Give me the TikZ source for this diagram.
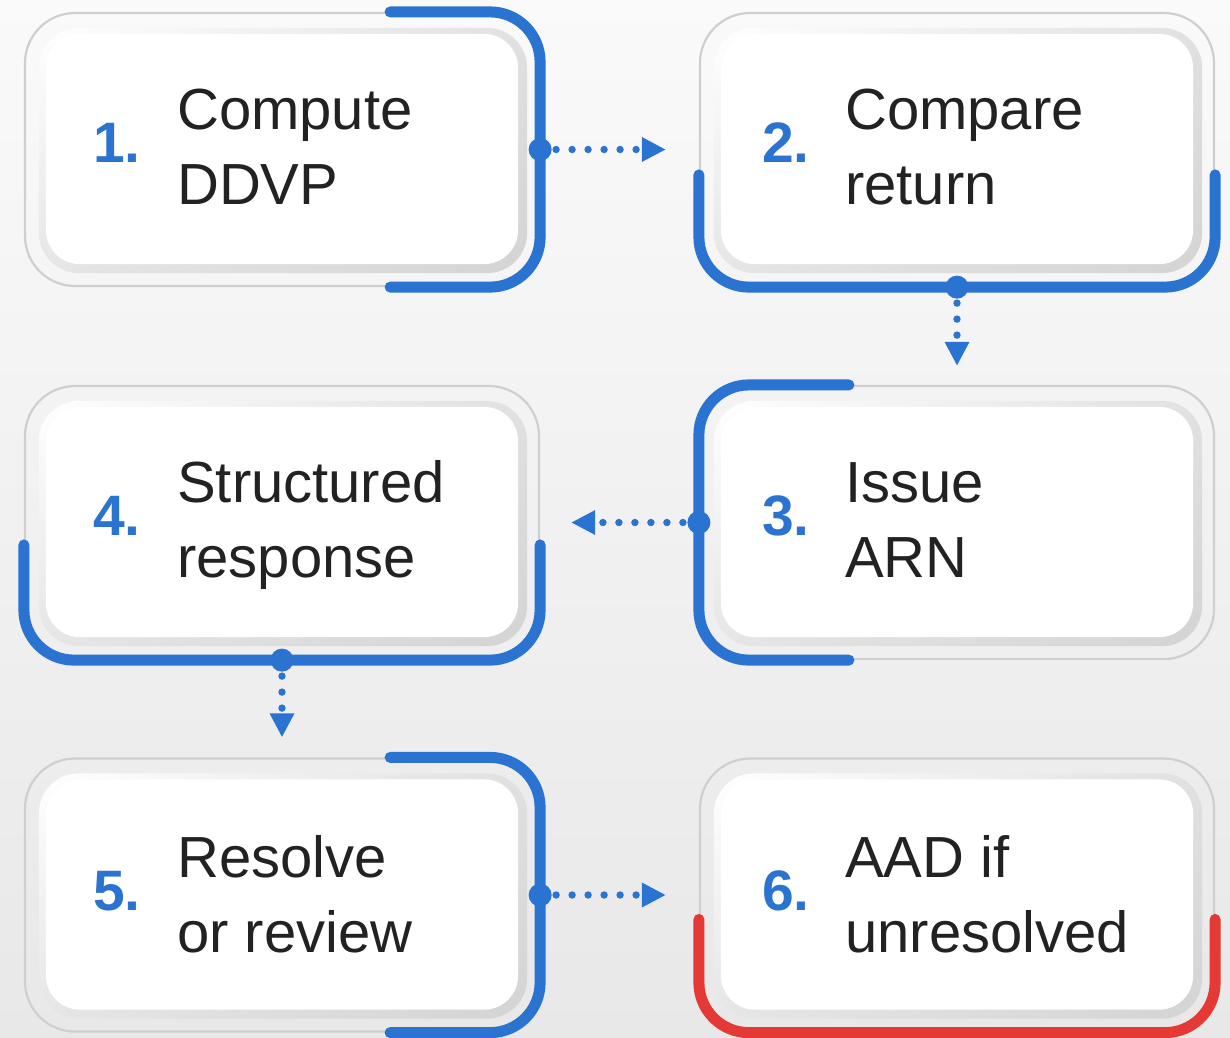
\documentclass[tikz,border=0pt]{standalone}
\usepackage{fontspec}
\setmainfont{Liberation Sans}
\usetikzlibrary{arrows.meta,shadings}
\definecolor{accblue}{HTML}{2B73D0}
\definecolor{accred}{HTML}{E53935}
\definecolor{txtc}{HTML}{222222}
\definecolor{outl}{HTML}{CFCFCF}
\newcommand\boxinner[1]{%
  \shade[upper left=white, upper right=black!12, lower left=black!10, lower right=black!17, rounded corners=40pt]
    ([xshift=15pt,yshift=-16pt]#1.north west) rectangle ([xshift=-13pt,yshift=14pt]#1.south east);
  \fill[white, rounded corners=34pt]
    ([xshift=22pt,yshift=-22pt]#1.north west) rectangle ([xshift=-22pt,yshift=23pt]#1.south east);
}
\begin{document}
\begin{tikzpicture}[x=1pt,y=-1pt,
  outerbox/.style={draw=outl, line width=2.2pt, rounded corners=50pt, minimum width=514pt, minimum height=273pt, inner sep=0pt},
  acc/.style={line width=11pt, line cap=round, rounded corners=50pt, draw=accblue},
  accr/.style={acc, draw=accred},
  num/.style={anchor=base west, inner sep=0pt, text=accblue, font=\fontsize{57}{68}\selectfont\bfseries},
  lbl/.style={anchor=base west, inner sep=0pt, text=txtc, font=\fontsize{58}{70}\selectfont},
  conn/.style={accblue, line width=7.4pt, line cap=round, dash pattern=on 0pt off 16pt, -{Triangle[length=24pt,width=23pt]}},
  startdot/.style={fill=accblue}
]
\useasboundingbox (0,0) rectangle (1230,1037);
\shade[top color=white!98!black, bottom color=black!9] (0,0) rectangle (1230,1037);

% boxes
\node[outerbox] (b1) at (282,149.5) {};
\node[outerbox] (b2) at (957,149.5) {};
\node[outerbox] (b3) at (957,522.5) {};
\node[outerbox] (b4) at (282,522.5) {};
\node[outerbox] (b5) at (282,895) {};
\node[outerbox] (b6) at (957,895) {};

\boxinner{b1}\boxinner{b2}\boxinner{b3}\boxinner{b4}\boxinner{b5}\boxinner{b6}

% accents
\draw[acc] ([xshift=-150pt]b1.north east) -- (b1.north east) -- (b1.south east) -- ([xshift=-150pt]b1.south east);
\draw[acc] ([yshift=-163pt]b2.north west) -- (b2.south west) -- (b2.south east) -- ([yshift=-163pt]b2.north east);
\draw[acc] ([xshift=150pt]b3.north west) -- (b3.north west) -- (b3.south west) -- ([xshift=150pt]b3.south west);
\draw[acc] ([yshift=-160pt]b4.north west) -- (b4.south west) -- (b4.south east) -- ([yshift=-160pt]b4.north east);
\draw[acc] ([xshift=-150pt]b5.north east) -- (b5.north east) -- (b5.south east) -- ([xshift=-150pt]b5.south east);
\draw[accr] ([yshift=-162pt]b6.north west) -- (b6.south west) -- (b6.south east) -- ([yshift=-162pt]b6.north east);

% connectors
\draw[conn, shorten >=33pt] (b1.east) -- (b2.west);
\fill[startdot] (b1.east) circle (11.5pt);
\draw[conn, shorten >=19pt] (b2.south) -- (b3.north);
\fill[startdot] (b2.south) circle (11.5pt);
\draw[conn, shorten >=31pt] (b3.west) -- (b4.east);
\fill[startdot] (b3.west) circle (11.5pt);
\draw[conn, shorten >=20pt] (b4.south) -- (b5.north);
\fill[startdot] (b4.south) circle (11.5pt);
\draw[conn, shorten >=33pt] (b5.east) -- (b6.west);
\fill[startdot] (b5.east) circle (11.5pt);

% texts
\node[num] (n1) at (93,162.5) {1.};
\node[lbl] (t1a) at (177,129.5) {Compute};
\node[lbl] (t1b) at (177,204.5) {DDVP};

\node[num] (n2) at (762,162.5) {2.};
\node[lbl] (t2a) at (845,129.5) {Compare};
\node[lbl] (t2b) at (845,204.5) {return};

\node[num] (n3) at (762,535.5) {3.};
\node[lbl] (t3a) at (845,502.5) {Issue};
\node[lbl] (t3b) at (845,577.5) {ARN};

\node[num] (n4) at (93,535.5) {4.};
\node[lbl] (t4a) at (177,502.5) {Structured};
\node[lbl] (t4b) at (177,577.5) {response};

\node[num] (n5) at (93,910) {5.};
\node[lbl] (t5a) at (177,877) {Resolve};
\node[lbl] (t5b) at (177,952) {or review};

\node[num] (n6) at (762,910) {6.};
\node[lbl] (t6a) at (845,877) {AAD if};
\node[lbl] (t6b) at (845,952) {unresolved};
\end{tikzpicture}
\end{document}
